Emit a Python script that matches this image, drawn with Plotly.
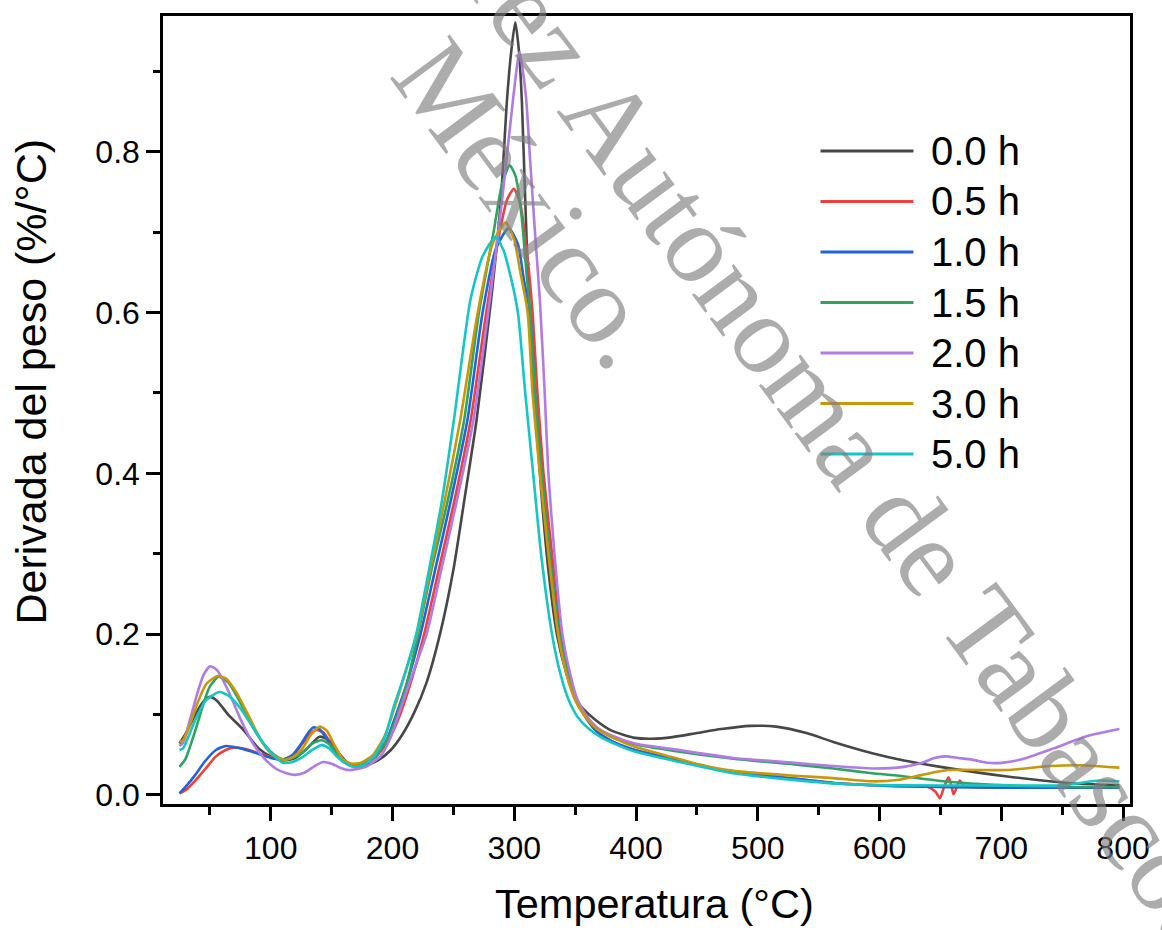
import plotly.graph_objects as go

# ---------------- data ----------------
series_names = ["0.0 h", "0.5 h", "1.0 h", "1.5 h", "2.0 h", "3.0 h", "5.0 h"]
series_colors = ["#474747", "#f03d3d", "#1f63e0", "#2fa462", "#b07be4", "#c99707", "#14c6c6"]

t_00 = [25, 30, 38, 44, 50, 56, 65, 77, 90, 100, 110, 120, 130, 140, 148, 156, 163, 170, 178, 188, 198, 208, 218,
        228, 239, 250, 259, 269, 281, 289, 294, 297.6, 300.8, 303.8, 306.2, 309, 312, 318, 322, 328, 335, 343, 350,
        356, 367, 380, 399, 413, 430, 450, 470, 494, 515, 540, 562, 594, 620, 650, 705, 755, 797]
v_00 = [0.064, 0.076, 0.100, 0.115, 0.122, 0.117, 0.100, 0.082, 0.058, 0.048, 0.043, 0.046, 0.058, 0.0725, 0.068,
        0.052, 0.040, 0.036, 0.037, 0.043, 0.055, 0.075, 0.103, 0.140, 0.200, 0.280, 0.367, 0.466, 0.616, 0.740,
        0.864, 0.926, 0.961, 0.926, 0.864, 0.740, 0.616, 0.466, 0.380, 0.280, 0.200, 0.150, 0.120, 0.108, 0.093,
        0.080, 0.071, 0.070, 0.072, 0.077, 0.082, 0.086, 0.085, 0.077, 0.066, 0.052, 0.043, 0.035, 0.023, 0.015,
        0.012]

t_05 = [25, 30, 38, 46, 55, 63, 70, 80, 90, 100, 110, 118, 126, 133, 137.7, 143, 149, 156, 162, 168, 176, 186, 196,
        205, 214, 226, 238, 251, 264.2, 277, 288, 294, 299.7, 305, 310, 315, 319, 324, 331, 338, 345, 351, 358, 367,
        380, 399, 430, 480, 520, 562, 616, 640, 646, 649.6, 653, 656.6, 659, 660.7, 663, 665.9, 669, 675, 700, 797]
v_05 = [0.002, 0.006, 0.018, 0.032, 0.048, 0.056, 0.059, 0.057, 0.052, 0.047, 0.044, 0.049, 0.064, 0.077, 0.081,
        0.078, 0.065, 0.048, 0.040, 0.036, 0.038, 0.047, 0.066, 0.095, 0.135, 0.200, 0.280, 0.367, 0.466, 0.600,
        0.700, 0.740, 0.754, 0.735, 0.680, 0.600, 0.500, 0.400, 0.300, 0.200, 0.150, 0.120, 0.100, 0.080, 0.067,
        0.056, 0.045, 0.028, 0.022, 0.015, 0.011, 0.010, 0.004, -0.004, 0.010, 0.022, 0.012, 0.001, 0.008, 0.018,
        0.012, 0.010, 0.009, 0.009]

t_10 = [25, 30, 38, 46, 55, 63.2, 72, 82, 92, 100, 110, 118, 126, 131, 135, 140, 146, 153, 160, 167, 175, 185, 195,
        203, 212, 223, 235, 248, 261.5, 274, 285, 295.4, 303, 308, 313, 317, 322, 329, 337, 344, 350, 357, 367, 380,
        399, 430, 480, 520, 562, 616, 700, 797]
v_10 = [0.002, 0.010, 0.025, 0.042, 0.056, 0.061, 0.059, 0.055, 0.050, 0.046, 0.044, 0.050, 0.066, 0.078, 0.084,
        0.082, 0.070, 0.053, 0.041, 0.036, 0.038, 0.047, 0.068, 0.100, 0.140, 0.200, 0.280, 0.367, 0.466, 0.600,
        0.680, 0.705, 0.685, 0.640, 0.600, 0.500, 0.400, 0.300, 0.200, 0.150, 0.120, 0.100, 0.080, 0.067, 0.056,
        0.045, 0.028, 0.022, 0.015, 0.011, 0.009, 0.009]

t_15 = [25, 30, 38, 45, 50, 57.2, 65, 75, 85, 95, 103, 110.6, 118, 126, 134, 141.7, 148, 155, 162, 168, 176, 186,
        196, 204, 212, 221, 232, 245.5, 258.8, 271, 283, 290, 296.2, 301, 306, 310, 313, 317, 322.5, 329, 337, 344,
        350, 358, 367, 380, 399, 430, 480, 530, 562, 594, 616, 650, 705, 755, 797]
v_15 = [0.035, 0.045, 0.080, 0.115, 0.135, 0.147, 0.140, 0.115, 0.085, 0.062, 0.050, 0.044, 0.046, 0.053, 0.064,
        0.068, 0.063, 0.050, 0.040, 0.036, 0.038, 0.048, 0.070, 0.100, 0.140, 0.200, 0.280, 0.367, 0.466, 0.600,
        0.700, 0.760, 0.783, 0.770, 0.720, 0.650, 0.600, 0.500, 0.400, 0.300, 0.200, 0.150, 0.120, 0.100, 0.085,
        0.072, 0.063, 0.055, 0.045, 0.038, 0.033, 0.027, 0.024, 0.0175, 0.012, 0.010, 0.010]

t_20 = [25, 28, 33, 40, 45, 50.2, 56, 65, 75, 85, 95, 105, 113, 120, 128, 136, 143, 150, 157, 164, 170, 178, 190,
        198, 205, 214, 228, 240, 253, 266.4, 280, 290, 298.9, 304.3, 309.5, 313, 317, 321, 325, 328, 333, 339.5,
        346, 352, 360, 367, 380, 399, 430, 480, 530, 562, 594, 620, 635, 645, 654, 665, 676, 689, 700, 716, 743,
        770, 797]
v_20 = [0.061, 0.065, 0.090, 0.128, 0.150, 0.160, 0.155, 0.130, 0.095, 0.065, 0.045, 0.032, 0.027, 0.025, 0.028,
        0.036, 0.041, 0.039, 0.034, 0.031, 0.032, 0.035, 0.048, 0.070, 0.100, 0.140, 0.200, 0.280, 0.367, 0.466,
        0.616, 0.740, 0.864, 0.924, 0.870, 0.790, 0.700, 0.616, 0.500, 0.400, 0.300, 0.200, 0.150, 0.118, 0.097,
        0.085, 0.074, 0.064, 0.057, 0.046, 0.040, 0.036, 0.033, 0.035, 0.040, 0.046, 0.048, 0.046, 0.044, 0.040,
        0.040, 0.044, 0.058, 0.073, 0.082]

t_30 = [25, 28, 33, 40, 47, 56.4, 63, 72, 82, 92, 100, 110.6, 118, 126, 133, 140.4, 146, 152, 159, 166, 174, 184,
        194, 202, 211, 220, 231, 243, 255.6, 270, 282, 292.9, 300, 305, 311, 315, 321, 328, 336, 343, 350, 357, 367,
        380, 399, 430, 460, 480, 530, 562, 594, 616, 635, 656, 705, 740, 765, 797]
v_30 = [0.066, 0.068, 0.085, 0.115, 0.138, 0.148, 0.145, 0.127, 0.098, 0.068, 0.052, 0.0435, 0.047, 0.058, 0.075,
        0.085, 0.080, 0.063, 0.045, 0.039, 0.040, 0.050, 0.075, 0.110, 0.155, 0.200, 0.280, 0.367, 0.466, 0.600,
        0.685, 0.712, 0.690, 0.650, 0.600, 0.500, 0.400, 0.300, 0.200, 0.150, 0.118, 0.100, 0.083, 0.072, 0.060,
        0.047, 0.035, 0.030, 0.024, 0.021, 0.017, 0.019, 0.025, 0.031, 0.031, 0.036, 0.037, 0.034]

t_50 = [25, 28, 33, 40, 47, 57.7, 65, 75, 85, 95, 103, 110, 118, 126, 134, 141.7, 148, 155, 162, 168, 176, 185, 194,
        201, 210, 219.5, 230, 240.7, 250.4, 264, 274, 284.6, 291, 297, 303, 309, 315.5, 322, 331, 338, 344.7, 352,
        360, 370, 385, 399, 430, 480, 520, 562, 616, 700, 750, 765, 780, 797]
v_50 = [0.056, 0.058, 0.075, 0.100, 0.118, 0.128, 0.124, 0.108, 0.085, 0.062, 0.048, 0.040, 0.041, 0.047, 0.056,
        0.062, 0.058, 0.047, 0.039, 0.035, 0.037, 0.048, 0.073, 0.110, 0.150, 0.200, 0.280, 0.367, 0.466, 0.616,
        0.670, 0.694, 0.678, 0.645, 0.600, 0.500, 0.400, 0.300, 0.200, 0.150, 0.118, 0.097, 0.084, 0.073, 0.062,
        0.054, 0.043, 0.027, 0.020, 0.0145, 0.012, 0.012, 0.012, 0.015, 0.018, 0.017]

series_t = [t_00, t_05, t_10, t_15, t_20, t_30, t_50]
series_v = [v_00, v_05, v_10, v_15, v_20, v_30, v_50]

x_ticks = [100, 200, 300, 400, 500, 600, 700, 800]
y_ticks = [0.0, 0.2, 0.4, 0.6, 0.8]
y_tick_labels = ["0.0", "0.2", "0.4", "0.6", "0.8"]

x_title = "Temperatura (°C)"
y_title = "Derivada del peso (%/°C)"
watermark_line1 = "Juárez Autónoma de Tabasco."
watermark_line2 = "México."

# ---------------- figure ----------------
W, H = 1162, 930
ML, MR, MT, MB = 163, 21, 16, 126
FONT = "Liberation Sans, Arial, sans-serif"

fig = go.Figure()
for name, col, t, v in zip(series_names, series_colors, series_t, series_v):
    fig.add_trace(go.Scatter(x=t, y=v, mode="lines", name=name,
                             line=dict(color=col, width=2.6, shape="spline", smoothing=0.6),
                             showlegend=False))

axis_common = dict(showgrid=False, zeroline=False, showline=True, linecolor="black", linewidth=2.5,
                   mirror=True, ticks="outside", tickcolor="black", tickwidth=2.5, ticklen=14,
                   tickfont=dict(family=FONT, size=32, color="black"))

fig.update_xaxes(range=[11.5, 805.7], tickvals=x_ticks, ticktext=[str(v) for v in x_ticks],
                 minor=dict(dtick=50, tick0=0, ticklen=8, tickwidth=2.5, tickcolor="black", ticks="outside"),
                 **axis_common)
fig.update_yaxes(range=[-0.0112, 0.9688], tickvals=y_ticks, ticktext=y_tick_labels,
                 minor=dict(dtick=0.1, tick0=0, ticklen=7, tickwidth=2.5, tickcolor="black", ticks="outside"),
                 **axis_common)

pw = W - ML - MR
ph = H - MT - MB


def px_x(px):
    return (px - ML) / pw


def px_y(py):
    return (H - MB - py) / ph


shapes = []
annotations = []
leg_y0 = 151
leg_dy = 50.5
for i, (name, col) in enumerate(zip(series_names, series_colors)):
    yy = leg_y0 + i * leg_dy
    shapes.append(dict(type="line", xref="paper", yref="paper", x0=px_x(828), x1=px_x(922),
                       y0=px_y(yy), y1=px_y(yy), line=dict(color=col, width=3)))
    annotations.append(dict(text=name, xref="paper", yref="paper", x=px_x(938), y=px_y(yy),
                            xanchor="left", yanchor="middle", showarrow=False,
                            font=dict(family=FONT, size=40, color="black")))

# axis titles
annotations.append(dict(text=x_title, xref="paper", yref="paper", x=px_x(660), y=px_y(903),
                        xanchor="center", yanchor="middle", showarrow=False,
                        font=dict(family=FONT, size=41.5, color="black")))
annotations.append(dict(text=y_title, xref="paper", yref="paper", x=px_x(29), y=px_y(382),
                        xanchor="center", yanchor="middle", showarrow=False, textangle=-90,
                        font=dict(family=FONT, size=43, color="black")))

# watermark
wm_font = dict(family="Liberation Serif, Times New Roman, serif", size=113, color="rgba(128,128,128,0.65)")
annotations.append(dict(text=watermark_line1, xref="paper", yref="paper", x=px_x(810), y=px_y(379),
                        xanchor="center", yanchor="middle", showarrow=False, textangle=53.5, font=wm_font))
annotations.append(dict(text=watermark_line2, xref="paper", yref="paper", x=px_x(535), y=px_y(203),
                        xanchor="center", yanchor="middle", showarrow=False, textangle=53.5, font=wm_font))

fig.update_layout(width=W, height=H, margin=dict(l=ML, r=MR, t=MT, b=MB, pad=0),
                  paper_bgcolor="white", plot_bgcolor="white",
                  shapes=shapes, annotations=annotations, showlegend=False)

fig.write_html("out.html")
